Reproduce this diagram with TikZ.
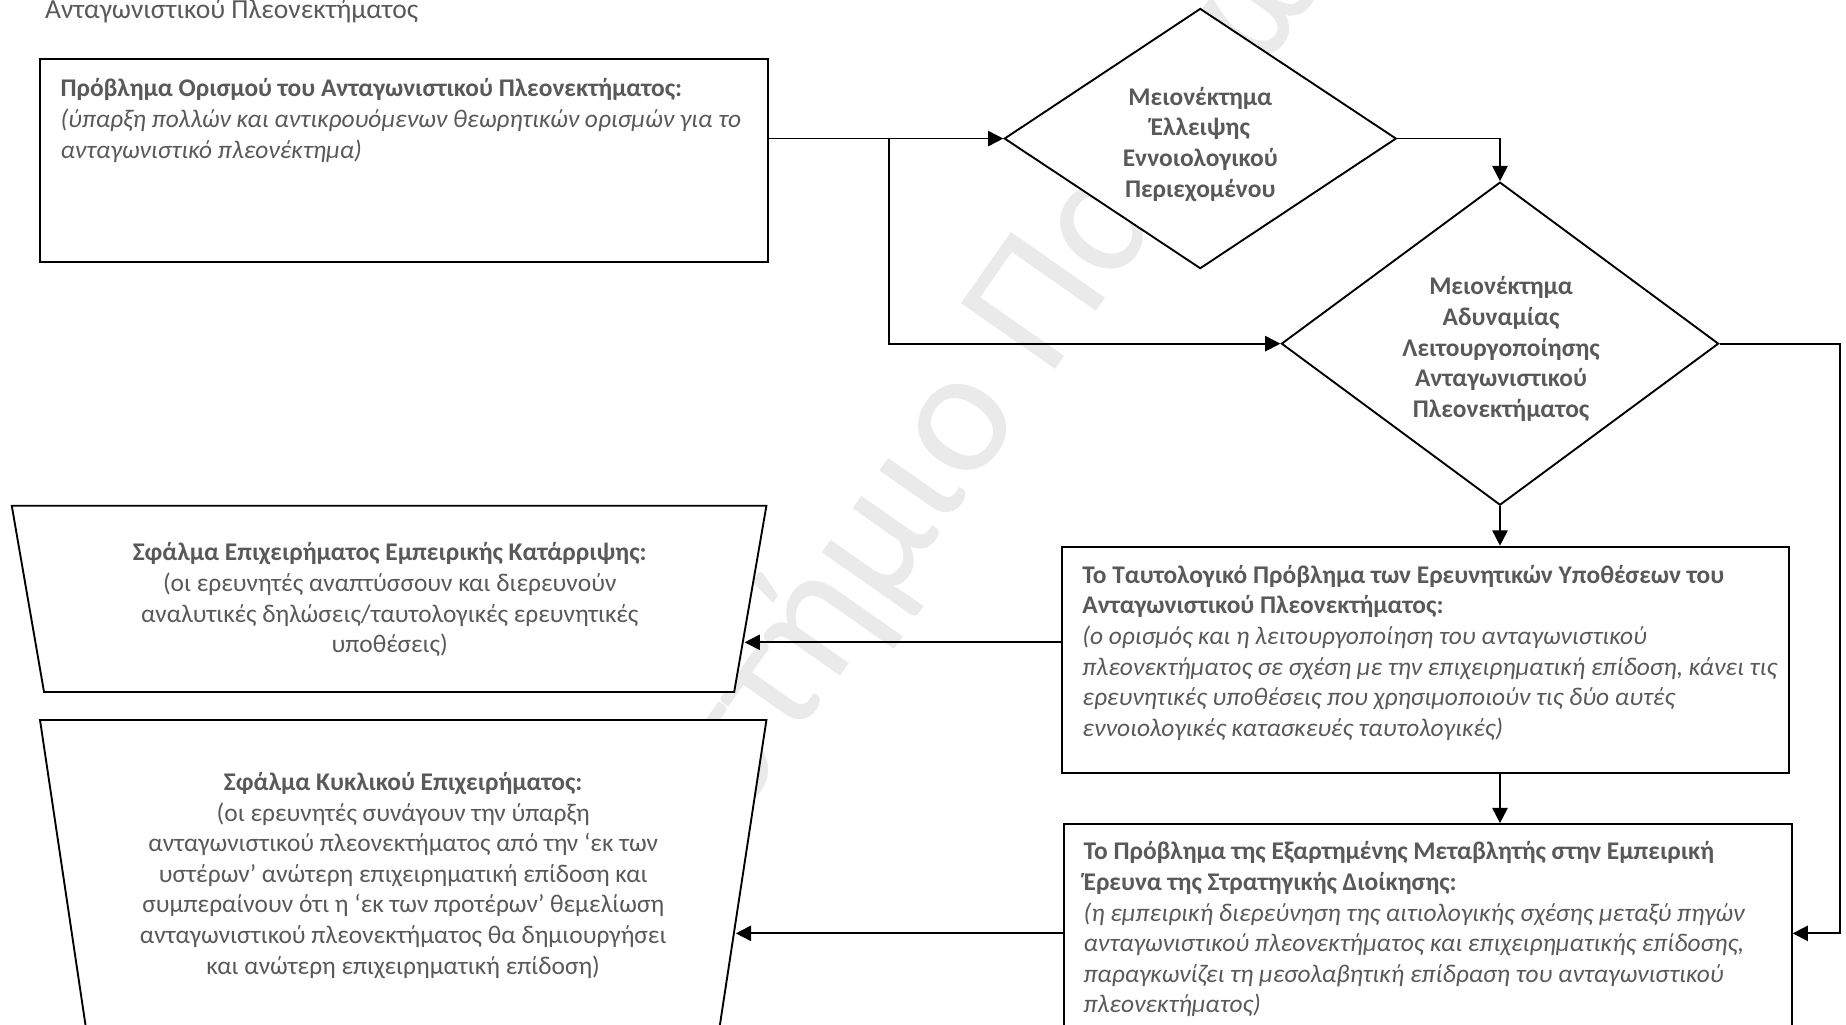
\documentclass[tikz,border=0pt]{standalone}
\usepackage{fontspec}
\setmainfont{Carlito}
\usetikzlibrary{arrows.meta,shapes.geometric}
\definecolor{txtgray}{HTML}{595959}
\definecolor{wmgray}{HTML}{EAEAEA}
\newcommand\fsz{\fontsize{10.8pt}{13pt}\selectfont}
\newcommand\lnstrut{\rule{0pt}{9pt}}
\begin{document}
\begin{tikzpicture}[x=0.5pt,y=-0.5pt,
  shp/.style={draw=black, fill=white, line width=0.8pt},
  conn/.style={draw=black, line width=0.8pt, -{Triangle[length=6.5pt,width=6.5pt]}},
  txt/.style={inner sep=0pt, text=txtgray, font=\fsz},
  wm/.style={inner sep=0pt, text=wmgray, font=\fontsize{76pt}{76pt}\selectfont, rotate=55},
  rectbox/.style={shp, rectangle, inner sep=0pt},
  dmd/.style={shp, diamond, inner sep=0pt}]
\useasboundingbox (0,0) rectangle (1568,870);
\clip (0,0) rectangle (1568,870);

% faint background lettering
\node[wm, anchor=base west] (wmb) at (890,323) {Πατρών};
\node[wm, anchor=base east] (wma) at (870.5,350.8) {Πανεπιστήμιο};

% shapes
\node[rectbox, minimum width=309.2pt, minimum height=86.2pt] (box1) at (343,136.6) {};
\node[dmd, minimum width=166.5pt, minimum height=110.5pt] (d1) at (1019.5,117.7) {};
\node[dmd, minimum width=185.7pt, minimum height=137.2pt] (d2) at (1274.1,291.9) {};
\node[rectbox, minimum width=308.8pt, minimum height=96.3pt] (box4) at (1210.8,560.6) {};
\node[rectbox, minimum width=309.2pt, minimum height=100pt] (box5) at (1212.7,800) {};
\path[shp] (10,429.6) -- (651,429.6) -- (623.6,587.8) -- (37.4,587.8) -- cycle;
\path[shp] (34,611.6) -- (651,611.6) -- (607,900) -- (77,900) -- cycle;

% texts
\node[txt, anchor=north west, align=left, font=\fontsize{11.7pt}{14pt}\selectfont] (title) at (38,-3)
  {\lnstrut Ανταγωνιστικού Πλεονεκτήματος};
\node[txt, anchor=north west, align=left] (t1) at (51,64)
  {\lnstrut\textbf{Πρόβλημα Ορισμού του Ανταγωνιστικού Πλεονεκτήματος:}\\
   \textit{(ύπαρξη πολλών και αντικρουόμενων θεωρητικών ορισμών για το}\\
   \textit{ανταγωνιστικό πλεονέκτημα)}};
\node[txt, anchor=north, align=center, font=\fsz\bfseries] (t2) at (1019.5,71)
  {\lnstrut Μειονέκτημα\\Έλλειψης\\Εννοιολογικού\\Περιεχομένου};
\node[txt, anchor=north, align=center, font=\fsz\bfseries] (t3) at (1275,232)
  {\lnstrut Μειονέκτημα\\Αδυναμίας\\Λειτουργοποίησης\\Ανταγωνιστικού\\Πλεονεκτήματος};
\node[txt, anchor=north west, align=left] (t4) at (919,477)
  {\lnstrut\textbf{Το Ταυτολογικό Πρόβλημα των Ερευνητικών Υποθέσεων του}\\
   \textbf{Ανταγωνιστικού Πλεονεκτήματος:}\\
   \textit{(ο ορισμός και η λειτουργοποίηση του ανταγωνιστικού}\\
   \textit{πλεονεκτήματος σε σχέση με την επιχειρηματική επίδοση, κάνει τις}\\
   \textit{ερευνητικές υποθέσεις που χρησιμοποιούν τις δύο αυτές}\\
   \textit{εννοιολογικές κατασκευές ταυτολογικές)}};
\node[txt, anchor=north west, align=left] (t5) at (920,712)
  {\lnstrut\textbf{Το Πρόβλημα της Εξαρτημένης Μεταβλητής στην Εμπειρική}\\
   \textbf{Έρευνα της Στρατηγικής Διοίκησης:}\\
   \textit{(η εμπειρική διερεύνηση της αιτιολογικής σχέσης μεταξύ πηγών}\\
   \textit{ανταγωνιστικού πλεονεκτήματος και επιχειρηματικής επίδοσης,}\\
   \textit{παραγκωνίζει τη μεσολαβητική επίδραση του ανταγωνιστικού}\\
   \textit{πλεονεκτήματος)}};
\node[txt, anchor=north, align=center] (t6) at (331,458)
  {\lnstrut\textbf{Σφάλμα Επιχειρήματος Εμπειρικής Κατάρριψης:}\\
   (οι ερευνητές αναπτύσσουν και διερευνούν\\
   αναλυτικές δηλώσεις/ταυτολογικές ερευνητικές\\
   υποθέσεις)};
\node[txt, anchor=north, align=center] (t7) at (342.5,653)
  {\lnstrut\textbf{Σφάλμα Κυκλικού Επιχειρήματος:}\\
   (οι ερευνητές συνάγουν την ύπαρξη\\
   ανταγωνιστικού πλεονεκτήματος από την ‘εκ των\\
   υστέρων’ ανώτερη επιχειρηματική επίδοση και\\
   συμπεραίνουν ότι η ‘εκ των προτέρων’ θεμελίωση\\
   ανταγωνιστικού πλεονεκτήματος θα δημιουργήσει\\
   και ανώτερη επιχειρηματική επίδοση)};

% connector helpers
\coordinate (split) at (755.4,117.7);
\coordinate (rail) at (1563,600);
\coordinate (y4) at (0,545.6);
\coordinate (y5) at (0,792.8);
\coordinate (t1r) at (632.5,545.6);
\coordinate (t2r) at (625,792.8);

% connectors
\draw[conn] (box1.east |- d1.west) -- (d1.west);
\draw[conn] (split) |- (d2.west);
\draw[conn] (d1.east) -| (d2.north);
\draw[conn] (d2.south) -- (d2.south |- box4.north);
\draw[conn] (d2.south |- box4.south) -- (d2.south |- box5.north);
\draw[conn] (d2.east) -| (rail) |- (box5.east |- y5);
\draw[conn] (box4.west |- y4) -- (t1r);
\draw[conn] (box5.west |- y5) -- (t2r);
\end{tikzpicture}
\end{document}
